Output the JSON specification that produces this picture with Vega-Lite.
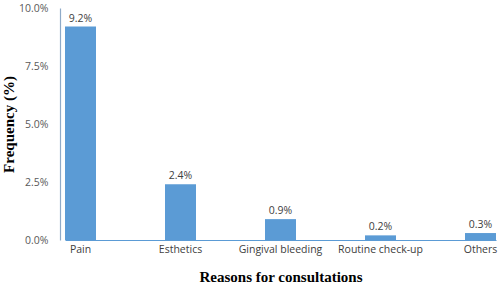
{
  "$schema": "https://vega.github.io/schema/vega-lite/v6.json",
  "width": 440,
  "height": 232,
  "autosize": "none",
  "padding": {"left": 60, "top": 8, "right": 0, "bottom": 45},
  "background": "white",
  "data": {"values": [
    {"reason": "Pain", "freq": 0.092},
    {"reason": "Esthetics", "freq": 0.024},
    {"reason": "Gingival bleeding", "freq": 0.009},
    {"reason": "Routine check-up", "freq": 0.002},
    {"reason": "Others", "freq": 0.003}
  ]},
  "config": {"view": {"stroke": null}},
  "encoding": {
    "x": {"field": "reason", "type": "nominal", "sort": null,
      "scale": {"range": [5, 436], "paddingInner": 0.69, "paddingOuter": 0},
      "axis": {"title": "Reasons for consultations", "labelAngle": 0, "labelFont": "Open Sans", "labelFontSize": 10.5, "labelColor": "#404040", "labelPadding": 4, "ticks": false, "domainColor": "#5b9bd5", "domainWidth": 1.2, "titleFont": "Liberation Serif", "titleFontSize": 15, "titleFontWeight": "bold", "titleColor": "#000000", "titlePadding": 15}},
    "y": {"field": "freq", "type": "quantitative",
      "scale": {"domain": [0, 0.1], "nice": false},
      "axis": {"title": "Frequency (%)", "values": [0, 0.025, 0.05, 0.075, 0.1], "format": ".1%", "grid": false, "ticks": false, "labelFont": "Open Sans", "labelFontSize": 10.5, "labelColor": "#595959", "labelPadding": 12, "domainColor": "#8eaac8", "domainWidth": 1.2, "titleFont": "Liberation Serif", "titleFontSize": 15, "titleFontWeight": "bold", "titleColor": "#000000", "titlePadding": 2}}
  },
  "layer": [
    {"mark": {"type": "bar", "color": "#5b9bd5"}},
    {"mark": {"type": "text", "dy": -8, "font": "Open Sans", "fontSize": 10.5, "color": "#404040"},
     "encoding": {"text": {"field": "freq", "type": "quantitative", "format": ".1%"}}}
  ]
}
